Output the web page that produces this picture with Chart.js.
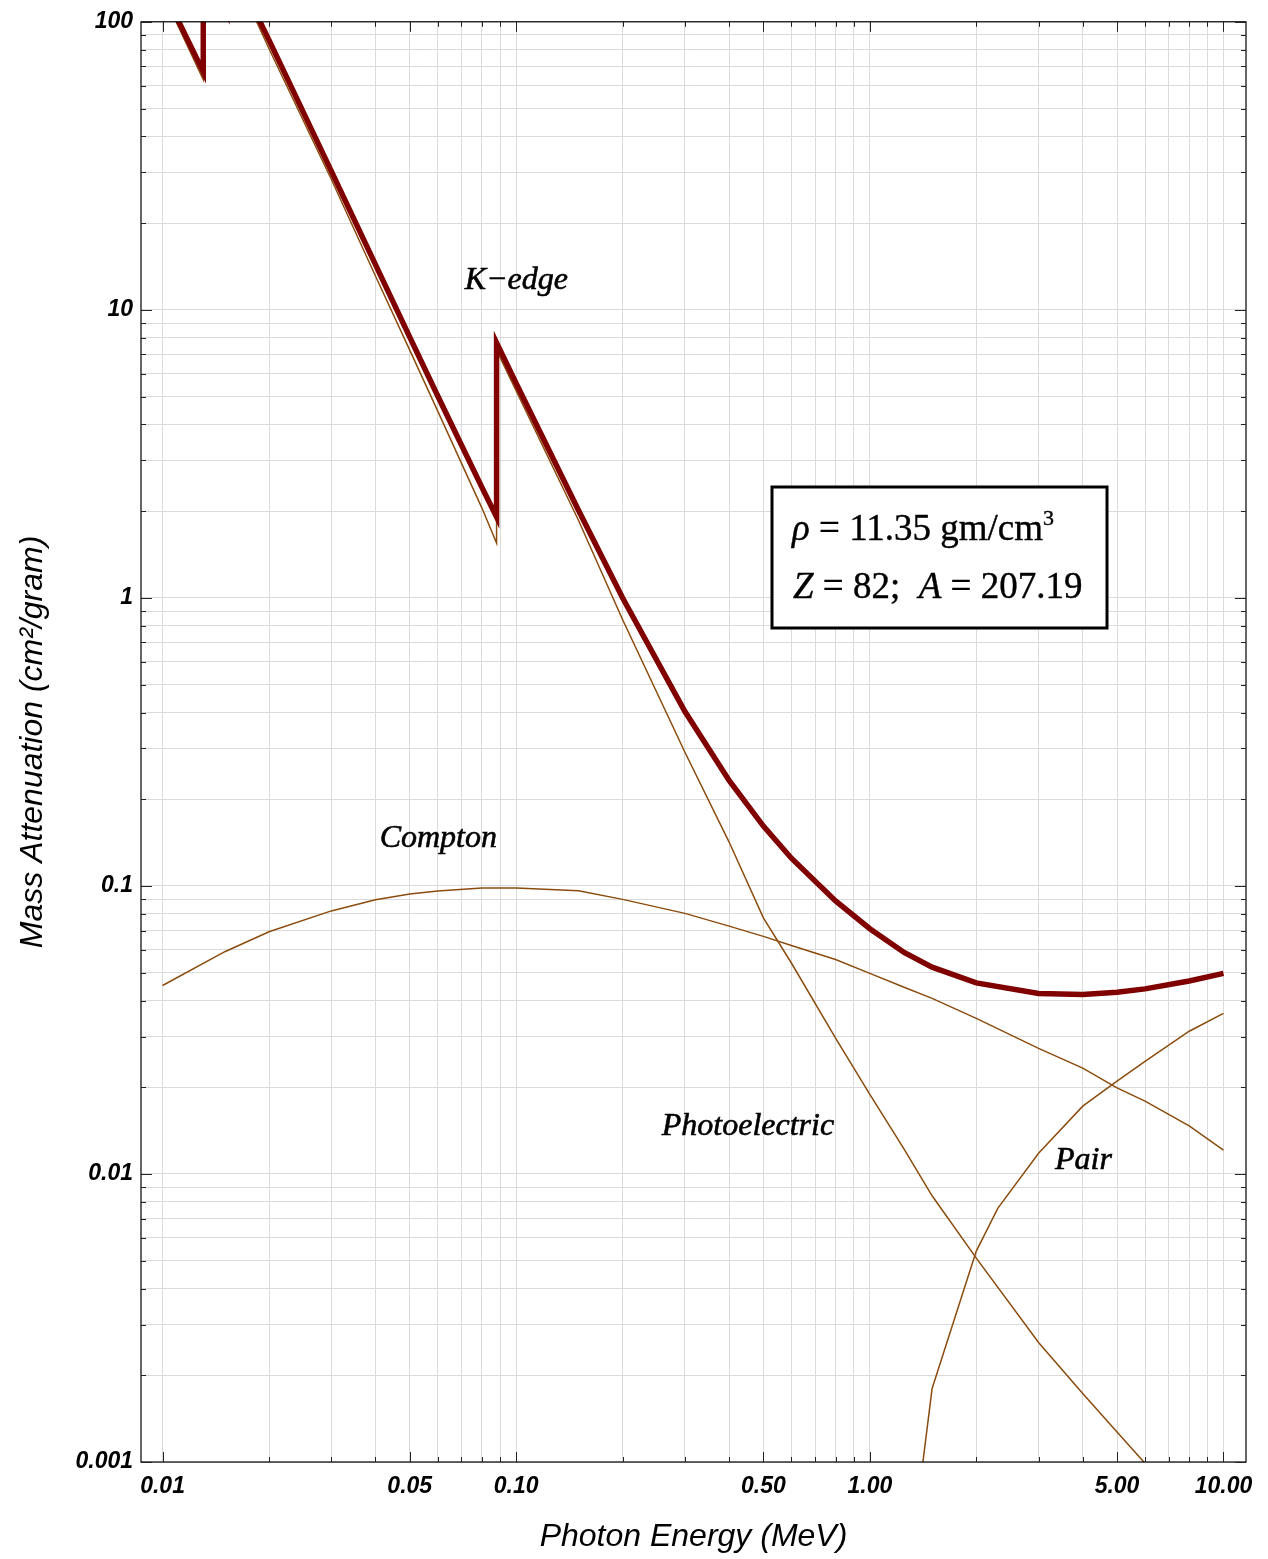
<!DOCTYPE html>
<html>
<head>
<meta charset="utf-8">
<title>Mass attenuation of lead</title>
<script src="https://cdn.jsdelivr.net/npm/chart.js@4.4.1/dist/chart.umd.min.js"></script>
<style>
  html, body { margin: 0; padding: 0; background: #fff; }
  #wrap { width: 1268px; height: 1559px; }
</style>
</head>
<body>
<div id="wrap"><canvas id="attChart" width="1268" height="1559"></canvas></div>
<script>
// Photon energies (MeV) and mass attenuation values (cm^2/g)
const energyTotal = [0.01, 0.013035, 0.013035, 0.015, 0.0152, 0.0152, 0.015861, 0.015861, 0.02, 0.03, 0.04, 0.05, 0.06, 0.08, 0.088004, 0.088004, 0.1, 0.15, 0.2, 0.3, 0.4, 0.5, 0.6, 0.8, 1, 1.25, 1.5, 2, 3, 4, 5, 6, 8, 10];
const totalAtt = [130.6, 67.0, 162.1, 111.6, 107.8, 148.5, 134.4, 154.5, 86.36, 30.32, 14.36, 8.041, 5.021, 2.419, 1.91, 7.683, 5.549, 2.014, 0.999, 0.4032, 0.2323, 0.1614, 0.1248, 0.0887, 0.07102, 0.05876, 0.05222, 0.04606, 0.04234, 0.04197, 0.04272, 0.04391, 0.04675, 0.04972];

const energyPhoto = energyTotal;
const photoAtt = [126, 63.0, 157, 108, 104, 144, 130, 150, 80.6, 28.4, 13.1, 7.25, 4.45, 2.05, 1.55, 7.25, 5.23, 1.86, 0.84, 0.291, 0.142, 0.0775, 0.054, 0.0296, 0.0189, 0.0122, 0.0084, 0.0051, 0.0026, 0.00173, 0.00127, 0.00099, 0.00068, 0.0005];

const energyCompton = [0.01, 0.015, 0.02, 0.03, 0.04, 0.05, 0.06, 0.08, 0.1, 0.15, 0.2, 0.3, 0.4, 0.5, 0.6, 0.8, 1, 1.25, 1.5, 2, 3, 4, 5, 6, 8, 10];
const comptonAtt = [0.0451, 0.0591, 0.0693, 0.0819, 0.0895, 0.0938, 0.0961, 0.0984, 0.0984, 0.0962, 0.0898, 0.0803, 0.0725, 0.0668, 0.0621, 0.0555, 0.0497, 0.0445, 0.0407, 0.0347, 0.0273, 0.0233, 0.0199, 0.0179, 0.0147, 0.0121];

const energyPair = [1.25, 1.5, 2, 2.3, 3, 4, 5, 6, 8, 10];
const pairAtt = [0.0003, 0.0018, 0.0054, 0.0076, 0.0118, 0.0172, 0.021, 0.0246, 0.0313, 0.0361];

// Tick labels
const xTickValues = [0.01, 0.05, 0.1, 0.5, 1, 5, 10];
const xTickLabels = ['0.01', '0.05', '0.10', '0.50', '1.00', '5.00', '10.00'];
const yTickValues = [0.001, 0.01, 0.1, 1, 10, 100];
const yTickLabels = ['0.001', '0.01', '0.1', '1', '10', '100'];

// Curve labels, anchored (left, baseline) at data coordinates
const curveNotes = ['K\u2212edge', 'Compton', 'Photoelectric', 'Pair'];
const curveNoteX = [0.0715, 0.0411, 0.258, 3.34];
const curveNoteY = [11.8, 0.1365, 0.01365, 0.0104];

const THICK_RED = 'rgb(128,0,0)';
const BROWN = 'rgb(140,76,14)';

// same value on a log axis?
function sameLog(a, b) {
  return Math.abs(Math.log10(a / b)) < 1e-6;
}

// grid positions 1..9 x 10^e between lo and hi
function logGrid(lo, hi) {
  const vals = [];
  for (let e = Math.floor(Math.log10(lo)); e <= Math.ceil(Math.log10(hi)); e++) {
    for (let m = 1; m <= 9; m++) {
      const v = Number((m * Math.pow(10, e)).toPrecision(6));
      if (v >= lo * 0.9999 && v <= hi * 1.0001) vals.push(v);
    }
  }
  return vals;
}

function toPoints(xs, ys) {
  return xs.map((x, i) => ({ x: x, y: ys[i] }));
}

function labelFor(values, labels, v) {
  const i = values.findIndex(t => sameLog(t, v));
  return i >= 0 ? labels[i] : '';
}

// Frame, inward tick marks, curve labels and the info box
const decorations = {
  id: 'decorations',
  afterDatasetsDraw(chart) {
    const { ctx, chartArea: a, scales } = chart;
    const xs = scales.x, ys = scales.y;
    ctx.save();

    ctx.strokeStyle = '#000';
    ctx.lineWidth = 1.2;
    ctx.strokeRect(a.left, a.top, a.right - a.left, a.bottom - a.top);

    ctx.strokeStyle = '#222';
    ctx.lineWidth = 1;
    ctx.beginPath();
    xs.ticks.forEach(t => {
      const px = Math.round(xs.getPixelForValue(t.value)) + 0.5;
      const len = xTickValues.some(v => sameLog(v, t.value)) ? 10 : 5;
      ctx.moveTo(px, a.bottom); ctx.lineTo(px, a.bottom - len);
      ctx.moveTo(px, a.top); ctx.lineTo(px, a.top + len);
    });
    ys.ticks.forEach(t => {
      const py = Math.round(ys.getPixelForValue(t.value)) + 0.5;
      const len = yTickValues.some(v => sameLog(v, t.value)) ? 11 : 5;
      ctx.moveTo(a.left, py); ctx.lineTo(a.left + len, py);
      ctx.moveTo(a.right, py); ctx.lineTo(a.right - len, py);
    });
    ctx.stroke();

    // curve labels (a thin stroke makes them as dark as the original)
    ctx.fillStyle = '#000';
    ctx.strokeStyle = '#000';
    ctx.lineWidth = 0.6;
    ctx.font = 'italic 32px "Liberation Serif", "DejaVu Serif", serif';
    ctx.textBaseline = 'alphabetic';
    ctx.textAlign = 'left';
    curveNotes.forEach((txt, i) => {
      const px = xs.getPixelForValue(curveNoteX[i]);
      const py = ys.getPixelForValue(curveNoteY[i]);
      ctx.fillText(txt, px, py);
      ctx.strokeText(txt, px, py);
    });

    // info box
    const bx = 772, by = 487, bw = 335, bh = 141;
    ctx.fillStyle = '#fff';
    ctx.fillRect(bx, by, bw, bh);
    ctx.strokeStyle = '#000';
    ctx.lineWidth = 3;
    ctx.strokeRect(bx, by, bw, bh);

    const serif = '"Liberation Serif", "DejaVu Serif", serif';
    function runs(parts, x, y) {
      parts.forEach(p => {
        const size = p.sup ? 22 : 37;
        ctx.font = (p.italic ? 'italic ' : '') + size + 'px ' + serif;
        ctx.fillStyle = '#000';
        ctx.strokeStyle = '#000';
        ctx.lineWidth = 0.4;
        const yy = p.sup ? y - 15 : y;
        ctx.fillText(p.text, x, yy);
        ctx.strokeText(p.text, x, yy);
        x += ctx.measureText(p.text).width;
      });
    }
    runs([
      { text: '\u03C1', italic: true },
      { text: ' = 11.35 gm/cm' },
      { text: '3', sup: true }
    ], 792, 540);
    runs([
      { text: 'Z', italic: true },
      { text: ' = 82;  ' },
      { text: 'A', italic: true },
      { text: ' = 207.19' }
    ], 793, 598);

    ctx.restore();
  }
};

const tickFont = { family: '"Liberation Sans", Arial, sans-serif', size: 23, style: 'italic', weight: 'bold' };
const titleFont = { family: '"Liberation Sans", Arial, sans-serif', size: 32, style: 'italic' };
const gridColor = '#dadada';

function thinLine(data) {
  return {
    data: data,
    showLine: true,
    borderColor: BROWN,
    borderWidth: 1.5,
    pointRadius: 0,
    tension: 0,
    clip: 0,
    order: 1
  };
}

const ctx = document.getElementById('attChart').getContext('2d');
const chart = new Chart(ctx, {
  type: 'scatter',
  data: {
    datasets: [
      {
        data: toPoints(energyTotal, totalAtt),
        showLine: true,
        borderColor: THICK_RED,
        borderWidth: 5.5,
        pointRadius: 0,
        tension: 0,
        clip: 0,
        order: 0
      },
      thinLine(toPoints(energyPhoto, photoAtt)),
      thinLine(toPoints(energyCompton, comptonAtt)),
      thinLine(toPoints(energyPair, pairAtt))
    ]
  },
  options: {
    responsive: false,
    animation: false,
    layout: { padding: { left: 0, top: 17, right: 22, bottom: 0 } },
    plugins: {
      legend: { display: false },
      tooltip: { enabled: false }
    },
    scales: {
      x: {
        type: 'logarithmic',
        min: 0.00869,
        max: 11.58,
        afterBuildTicks: scale => {
          scale.ticks = logGrid(0.01, 10).map(v => ({ value: v }));
        },
        afterFit: scale => { scale.height = 97; },
        grid: { color: gridColor, lineWidth: 1, drawTicks: false },
        border: { display: false },
        ticks: {
          autoSkip: false,
          maxRotation: 0,
          padding: 11,
          color: '#000',
          font: tickFont,
          callback: v => labelFor(xTickValues, xTickLabels, v)
        },
        title: {
          display: true,
          text: 'Photon Energy (MeV)',
          color: '#000',
          font: titleFont,
          padding: { top: 0, bottom: 3 }
        }
      },
      y: {
        type: 'logarithmic',
        min: 0.001,
        max: 100,
        afterBuildTicks: scale => {
          scale.ticks = logGrid(0.001, 100).map(v => ({ value: v }));
        },
        afterFit: scale => { scale.width = 141; },
        grid: { color: gridColor, lineWidth: 1, drawTicks: false },
        border: { display: false },
        ticks: {
          autoSkip: false,
          padding: 8,
          color: '#000',
          font: tickFont,
          callback: v => labelFor(yTickValues, yTickLabels, v)
        },
        title: {
          display: true,
          text: 'Mass Attenuation (cm\u00B2/gram)',
          color: '#000',
          font: titleFont,
          padding: { top: 14, bottom: 0 }
        }
      }
    }
  },
  plugins: [decorations]
});
</script>
</body>
</html>
